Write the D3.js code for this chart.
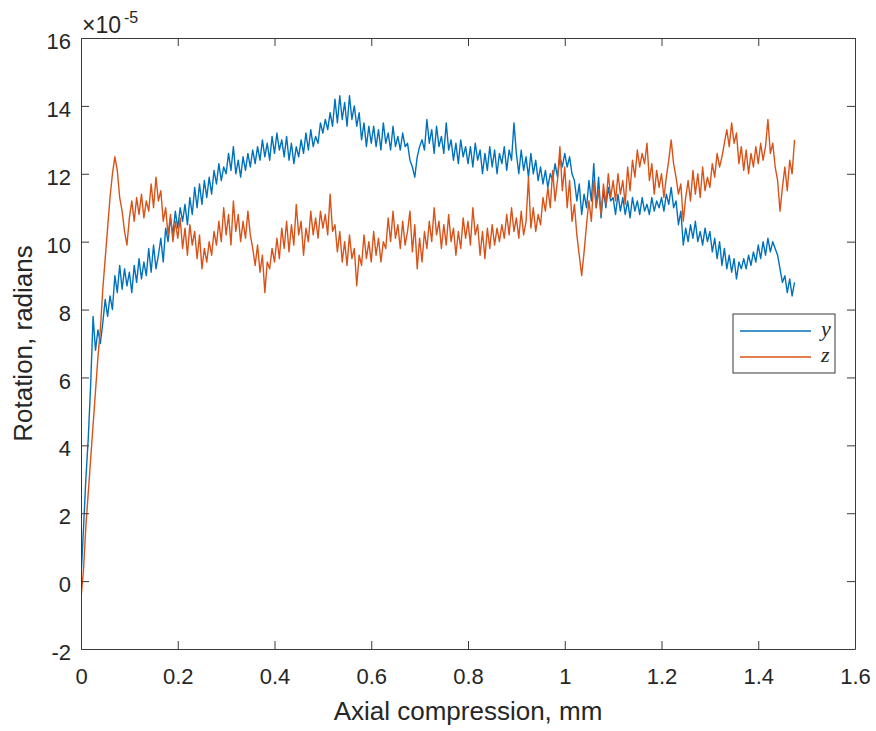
<!DOCTYPE html>
<html>
<head>
<meta charset="utf-8">
<script src="https://cdn.jsdelivr.net/npm/d3@7"></script>
<style>
  html, body { margin: 0; padding: 0; background: #ffffff; }
  svg { display: block; }
</style>
</head>
<body>
<svg id="chart" width="876" height="731"></svg>
<script>
// ---------------- data (values in units of 1e-5 rad) ----------------
const xStart = 0;          // mm
const xStep = 0.005;       // mm between samples
const seriesNames = ["y", "z"];

const rotY = [
  0.1, 1.5, 3.0, 4.2, 5.8, 7.8, 6.8, 7.4, 7.0, 7.6, 8.3, 7.8, 8.4, 8.0, 9.0, 8.5, 9.3, 8.6, 9.2, 8.7,
  9.1, 8.5, 9.3, 8.8, 9.5, 8.9, 9.4, 9.0, 9.8, 9.1, 9.9, 9.2, 9.6, 10.1, 9.4, 10.4, 10.0, 10.7, 10.2, 10.9,
  10.4, 11.0, 10.6, 11.1, 10.5, 11.3, 10.8, 11.6, 11.0, 11.7, 11.1, 11.8, 11.3, 11.9, 11.4, 12.1, 11.7, 12.3, 11.8, 12.2,
  12.0, 12.6, 12.1, 12.8, 12.0, 12.4, 11.9, 12.5, 12.1, 12.6, 12.2, 12.7, 12.3, 12.8, 12.4, 13.0, 12.5, 12.9, 12.4, 13.1,
  12.6, 13.2, 12.7, 13.0, 12.5, 13.1, 12.4, 12.9, 12.3, 12.8, 12.5, 13.0, 12.6, 13.2, 12.7, 13.3, 12.8, 13.1, 12.9, 13.5,
  13.2, 13.6, 13.3, 13.8, 13.4, 14.2, 13.5, 14.3, 13.6, 14.1, 13.4, 14.3, 13.6, 14.0, 13.4, 13.8, 13.0, 13.5, 12.8, 13.4,
  12.9, 13.4, 12.8, 13.3, 12.7, 13.5, 12.9, 13.2, 12.7, 13.4, 12.8, 13.1, 12.7, 13.2, 12.8, 12.9, 12.4, 12.2, 11.9, 12.5,
  12.8, 13.0, 12.7, 13.6, 12.9, 13.3, 12.6, 13.4, 12.8, 13.1, 12.6, 13.5, 12.7, 13.0, 12.4, 12.9, 12.3, 13.0, 12.5, 12.8,
  12.3, 12.8, 12.2, 12.9, 12.4, 12.7, 12.0, 12.6, 12.1, 12.8, 12.2, 12.7, 12.0, 12.6, 12.3, 12.8, 12.1, 12.7, 12.4, 13.5,
  12.6, 12.0, 12.7, 12.1, 12.5, 11.9, 12.6, 12.0, 12.4, 11.8, 12.2, 11.7, 12.1, 11.6, 12.0, 11.8, 12.3, 11.9, 12.5, 12.2,
  12.6, 12.2, 12.5, 12.0, 11.8, 11.2, 11.7, 10.8, 11.4, 11.0, 11.8, 11.2, 12.3, 11.0, 11.9, 10.7, 11.5, 11.0, 11.6, 11.2,
  11.3, 10.8, 11.4, 10.9, 11.3, 10.8, 11.2, 10.7, 11.3, 10.9, 11.2, 10.8, 11.3, 10.9, 11.1, 10.8, 11.3, 10.9, 11.2, 11.0,
  11.3, 10.9, 11.4, 11.1, 11.6, 11.0, 11.2, 10.5, 10.9, 9.9, 10.4, 10.0, 10.5, 10.1, 10.6, 10.0, 10.3, 9.9, 10.4, 10.0,
  10.3, 9.7, 10.1, 9.5, 10.0, 9.3, 9.8, 9.2, 9.6, 9.1, 9.5, 8.9, 9.4, 9.2, 9.5, 9.2, 9.6, 9.3, 9.7, 9.4,
  9.9, 9.5, 10.0, 9.6, 10.1, 9.7, 10.0, 9.8, 9.6, 9.2, 8.8, 9.0, 8.5, 8.9, 8.4, 8.8
];

const rotZ = [
  -0.5, 0.3, 1.6, 2.6, 3.6, 4.6, 5.6, 6.6, 7.4, 8.6, 9.5, 10.4, 11.3, 12.0, 12.5, 12.1, 11.3, 10.9, 10.3, 9.9,
  10.7, 11.2, 10.6, 11.3, 10.8, 11.4, 10.7, 11.2, 10.9, 11.7, 11.0, 11.9, 11.2, 11.5, 10.6, 11.0, 10.2, 10.8, 10.0, 10.6,
  10.1, 10.7, 9.8, 10.4, 9.6, 10.5, 9.9, 10.3, 9.5, 10.2, 9.2, 9.8, 9.4, 10.0, 9.6, 10.3, 9.9, 10.6, 10.0, 11.0,
  10.2, 10.8, 9.9, 11.2, 10.3, 10.8, 10.0, 10.6, 10.1, 10.9, 10.2, 9.8, 9.3, 9.9, 9.1, 9.6, 8.5, 9.4, 9.2, 9.8,
  9.4, 10.1, 9.5, 10.4, 9.8, 10.6, 9.7, 10.5, 9.9, 11.1, 10.2, 10.6, 9.6, 10.4, 10.0, 10.9, 10.2, 10.7, 10.1, 10.9,
  10.4, 10.8, 10.2, 11.4, 10.3, 10.5, 9.7, 10.3, 9.4, 10.0, 9.3, 10.2, 9.5, 9.8, 8.7, 9.6, 9.3, 10.2, 9.5, 10.0,
  9.4, 10.3, 9.6, 10.1, 9.4, 10.0, 9.8, 10.7, 10.0, 10.9, 10.1, 10.5, 9.8, 10.6, 9.9, 10.3, 10.9, 9.7, 10.5, 9.2,
  10.1, 9.4, 10.3, 9.8, 10.6, 10.0, 11.0, 10.2, 10.6, 9.8, 10.5, 9.9, 10.8, 10.0, 10.4, 9.6, 10.3, 9.8, 10.7, 10.1,
  10.6, 9.9, 11.0, 10.2, 10.5, 9.6, 10.3, 9.5, 10.4, 9.8, 10.5, 9.9, 10.4, 10.0, 10.5, 10.1, 10.8, 10.2, 11.0, 10.3,
  10.7, 10.1, 10.9, 10.2, 10.6, 11.9, 10.4, 11.0, 10.3, 10.8, 10.5, 11.3, 10.9, 11.6, 11.0, 12.1, 11.2, 11.8, 12.8, 11.5,
  12.2, 11.0, 11.8, 10.6, 11.1, 10.2, 9.6, 9.0, 9.7, 10.5, 11.2, 10.6, 11.8, 11.0, 11.5, 10.8, 11.7, 11.1, 12.0, 11.3,
  11.8, 11.2, 12.0, 11.4, 11.8, 11.1, 12.2, 11.5, 12.4, 11.9, 12.7, 12.2, 12.6, 12.3, 12.9, 11.8, 12.3, 11.4, 12.1, 11.6,
  12.0, 11.3, 11.9, 12.4, 13.0, 12.3, 11.9, 11.4, 11.7, 10.6, 11.3, 11.8, 11.2, 12.1, 11.4, 12.0, 11.3, 12.2, 11.5, 11.9,
  11.6, 12.3, 11.9, 12.6, 12.2, 12.5, 12.9, 13.3, 12.8, 13.5, 12.9, 13.2, 12.3, 12.8, 12.1, 12.7, 12.0, 12.6, 12.2, 12.8,
  12.3, 12.9, 12.4, 12.8, 13.6, 12.6, 12.9, 12.2, 11.8, 10.9, 11.6, 12.2, 11.5, 12.4, 12.0, 13.0
];

const xTickValues = [0, 0.2, 0.4, 0.6, 0.8, 1, 1.2, 1.4, 1.6];
const xTickLabels = ["0", "0.2", "0.4", "0.6", "0.8", "1", "1.2", "1.4", "1.6"];
const yTickValues = [-2, 0, 2, 4, 6, 8, 10, 12, 14, 16];
const yTickLabels = ["-2", "0", "2", "4", "6", "8", "10", "12", "14", "16"];

const xLabel = "Axial compression, mm";
const yLabel = "Rotation, radians";
const colors = ["#0072BD", "#D95319"];

// ---------------- layout ----------------
const svg = d3.select("#chart");
const margin = { left: 81, right: 21, top: 38, bottom: 82 };
const W = 876, H = 731;
const plotW = W - margin.left - margin.right;
const plotH = H - margin.top - margin.bottom;

const x = d3.scaleLinear().domain([0, 1.6]).range([margin.left, margin.left + plotW]);
const y = d3.scaleLinear().domain([-2, 16]).range([margin.top + plotH, margin.top]);

const axisColor = "#3a3a3a";
const textColor = "#262626";
const sansFont = "'Liberation Sans', Arial, Helvetica, sans-serif";
const serifFont = "'Liberation Serif', 'DejaVu Serif', 'Times New Roman', serif";
const tickFont = 22;

svg.append("rect").attr("x", 0).attr("y", 0).attr("width", W).attr("height", H).attr("fill", "#fff");

// ---------------- lines ----------------
const series = [rotY, rotZ].map((vals, k) => ({
  name: seriesNames[k],
  color: colors[k],
  points: vals.map((v, i) => ({ x: xStart + i * xStep, v }))
}));

const line = d3.line().x(d => x(d.x)).y(d => y(d.v));
svg.append("clipPath").attr("id", "clip")
  .append("rect").attr("x", margin.left).attr("y", margin.top).attr("width", plotW).attr("height", plotH);

svg.append("g").attr("clip-path", "url(#clip)")
  .selectAll("path").data(series).join("path")
  .attr("d", d => line(d.points))
  .attr("fill", "none")
  .attr("stroke", d => d.color)
  .attr("stroke-width", 1.4)
  .attr("stroke-linejoin", "round");

// ---------------- axes ----------------
function styleAxis(g) {
  g.select(".domain").attr("stroke", axisColor).attr("stroke-width", 1);
  g.selectAll(".tick line").attr("stroke", axisColor).attr("stroke-width", 1);
  g.selectAll(".tick text")
    .style("fill", textColor)
    .style("font-family", sansFont)
    .style("font-size", tickFont + "px");
}

const xFmt = d => xTickLabels[xTickValues.indexOf(d)];
const yFmt = d => yTickLabels[yTickValues.indexOf(d)];

const gx = svg.append("g").attr("transform", `translate(0,${margin.top + plotH})`)
  .call(d3.axisBottom(x).tickValues(xTickValues).tickFormat(xFmt).tickSizeInner(-8).tickSizeOuter(0).tickPadding(19));
styleAxis(gx);

const gxTop = svg.append("g").attr("transform", `translate(0,${margin.top})`)
  .call(d3.axisTop(x).tickValues(xTickValues).tickFormat("").tickSizeInner(-8).tickSizeOuter(0));
styleAxis(gxTop);

const gy = svg.append("g").attr("transform", `translate(${margin.left},0)`)
  .call(d3.axisLeft(y).tickValues(yTickValues).tickFormat(yFmt).tickSizeInner(-8).tickSizeOuter(0).tickPadding(10));
styleAxis(gy);
gy.selectAll(".tick text").attr("dy", "0.48em");

const gyRight = svg.append("g").attr("transform", `translate(${margin.left + plotW},0)`)
  .call(d3.axisRight(y).tickValues(yTickValues).tickFormat("").tickSizeInner(-8).tickSizeOuter(0));
styleAxis(gyRight);

// ---------------- exponent ----------------
svg.append("text").attr("x", 82).attr("y", 33)
  .style("font-family", sansFont).style("font-size", "23px").style("fill", textColor)
  .text("\u00D710");
svg.append("text").attr("x", 124).attr("y", 23)
  .style("font-family", sansFont).style("font-size", "16px").style("fill", textColor)
  .text("-5");

// ---------------- axis labels ----------------
svg.append("text")
  .attr("x", margin.left + plotW / 2).attr("y", 720)
  .attr("text-anchor", "middle")
  .style("font-family", sansFont).style("font-size", "26px").style("fill", textColor)
  .text(xLabel);

svg.append("text")
  .attr("transform", `translate(32,${margin.top + plotH / 2}) rotate(-90)`)
  .attr("text-anchor", "middle")
  .style("font-family", sansFont).style("font-size", "26px").style("fill", textColor)
  .text(yLabel);

// ---------------- legend ----------------
const lg = svg.append("g").attr("transform", "translate(733,314)");
lg.append("rect").attr("x", 0).attr("y", 0).attr("width", 102).attr("height", 59)
  .attr("fill", "#fff").attr("stroke", axisColor).attr("stroke-width", 1);
const items = lg.selectAll("g.item").data(series).join("g").attr("class", "item")
  .attr("transform", (d, i) => `translate(0,${17 + i * 26})`);
items.append("line").attr("x1", 7).attr("x2", 78).attr("y1", 0).attr("y2", 0)
  .attr("stroke", d => d.color).attr("stroke-width", 1.3);
items.append("text").attr("x", 88).attr("y", 5)
  .style("font-family", serifFont)
  .style("font-style", "italic").style("font-size", "22px").style("fill", textColor)
  .text(d => d.name);
</script>
</body>
</html>
